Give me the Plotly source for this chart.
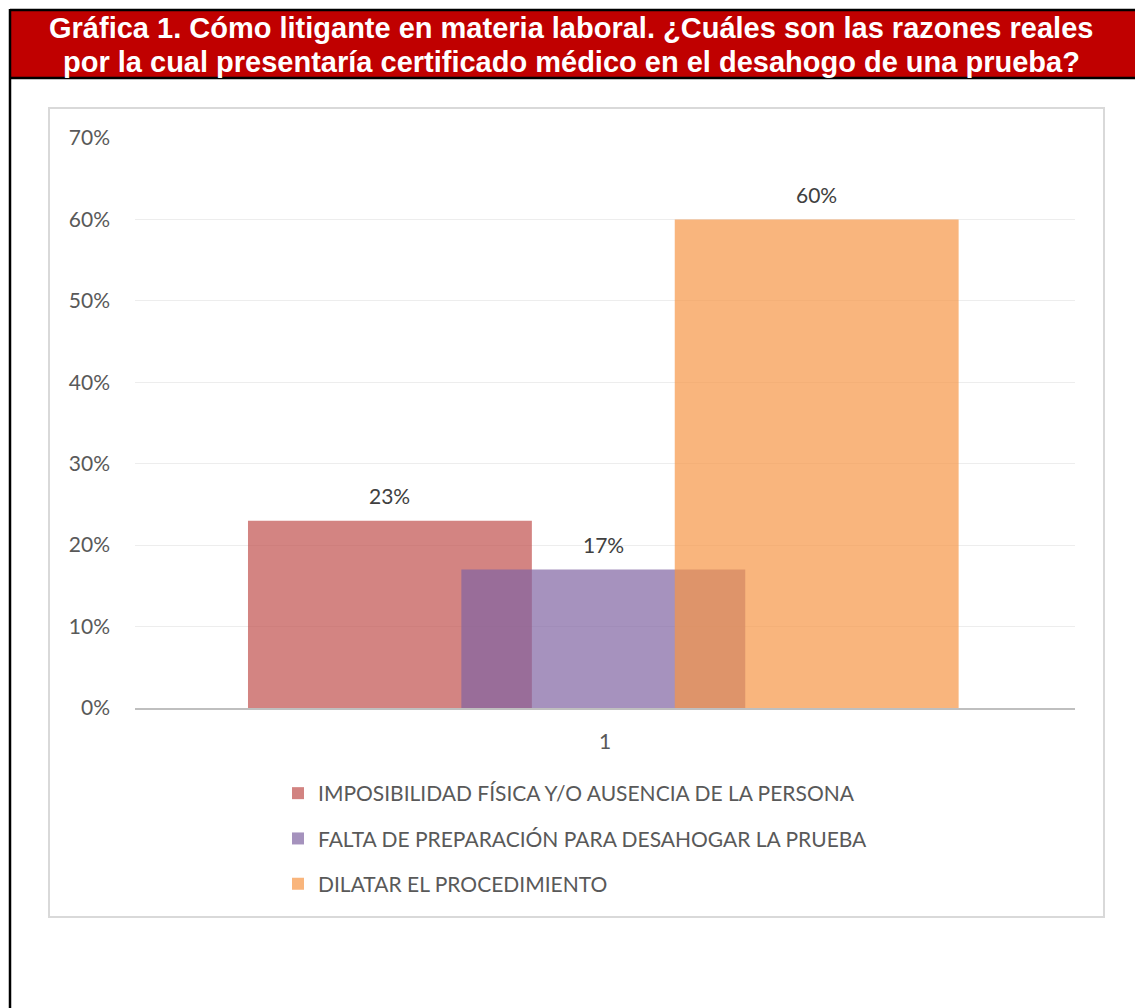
import plotly.graph_objects as go

# --- data ---
categories = ["1"]
series_names = [
    "IMPOSIBILIDAD FÍSICA Y/O AUSENCIA DE LA PERSONA",
    "FALTA DE PREPARACIÓN PARA DESAHOGAR LA PRUEBA",
    "DILATAR EL PROCEDIMIENTO",
]
series_values = [0.23, 0.17, 0.60]
y_ticks = [0, 0.1, 0.2, 0.3, 0.4, 0.5, 0.6, 0.7]
title_lines = [
    "Gráfica 1. Cómo litigante en materia laboral. ¿Cuáles son las razones reales",
    "por la cual presentaría certificado médico en el desahogo de una prueba?",
]

# --- styling ---
W, H = 1135, 1008
colors = ["#C0504D", "#8064A2", "#F79646"]
bar_width = 0.302
bar_offsets = [-0.3798, -0.1528, 0.0742]
FONT = "Lato"
TXT = 21

def px(x):
    return x / W

def py(y):
    return 1 - y / H

fig = go.Figure()
for i, (name, val) in enumerate(zip(series_names, series_values)):
    fig.add_trace(go.Bar(
        x=categories,
        y=[val],
        name=name,
        width=bar_width,
        offset=bar_offsets[i],
        marker=dict(color=colors[i], line=dict(width=0)),
        opacity=0.7,
        legendgroup=f"g{i}",
        hoverinfo="skip",
    ))

# value labels above each bar
annotations = []
for i, val in enumerate(series_values):
    annotations.append(dict(
        x=bar_offsets[i] + bar_width / 2,
        xref="x",
        y=val,
        yref="y",
        text=f"{round(val * 100)}%",
        showarrow=False,
        yshift=25,
        font=dict(family=FONT, size=TXT, color="#404040"),
    ))

# header text, one annotation per line
for line, yc in zip(title_lines, [28, 62]):
    annotations.append(dict(
        x=px(571), y=py(yc), xref="paper", yref="paper",
        xanchor="center", yanchor="middle",
        text=line, showarrow=False,
        font=dict(family="Liberation Sans", size=29, color="white", weight="bold"),
    ))

shapes = [
    # red header band
    dict(type="rect", xref="paper", yref="paper",
         x0=px(10), x1=px(1136), y0=py(78), y1=py(10),
         fillcolor="#C00000", line=dict(width=0), layer="below"),
    # outer black frame
    dict(type="line", xref="paper", yref="paper",
         x0=px(10), x1=px(1136), y0=py(10), y1=py(10),
         line=dict(color="black", width=2.5)),
    dict(type="line", xref="paper", yref="paper",
         x0=px(10), x1=px(1136), y0=py(78), y1=py(78),
         line=dict(color="black", width=2.5)),
    dict(type="line", xref="paper", yref="paper",
         x0=px(10), x1=px(10), y0=py(9), y1=py(1010),
         line=dict(color="black", width=2.5)),
    # chart frame
    dict(type="rect", xref="paper", yref="paper",
         x0=px(49), x1=px(1104), y0=py(917), y1=py(108),
         line=dict(color="#D9D9D9", width=2), layer="below"),
]

fig.update_layout(
    width=W, height=H,
    margin=dict(l=0, r=0, t=0, b=0, autoexpand=False),
    paper_bgcolor="white",
    plot_bgcolor="white",
    barmode="overlay",
    showlegend=True,
    annotations=annotations,
    shapes=shapes,
    legend=dict(
        x=px(278), y=py(773), xanchor="left", yanchor="top",
        orientation="v",
        font=dict(family=FONT, size=TXT, color="#595959"),
        tracegroupgap=15,
        bgcolor="rgba(0,0,0,0)",
        traceorder="grouped",
    ),
    xaxis=dict(
        domain=[px(135), px(1075)],
        type="category",
        range=[-0.5, 0.5],
        automargin=False,
        showgrid=False,
        showline=True,
        linecolor="#BFBFBF",
        linewidth=2,
        ticks="",
        ticklabelstandoff=14,
        tickfont=dict(family=FONT, size=TXT, color="#595959"),
        fixedrange=True,
    ),
    yaxis=dict(
        domain=[py(708), py(138)],
        range=[0, 0.7],
        tickvals=y_ticks,
        tickformat=".0%",
        automargin=False,
        showgrid=True,
        gridcolor="#EDEDED",
        gridwidth=1,
        zeroline=False,
        showline=False,
        ticks="",
        ticklabelstandoff=24,
        tickfont=dict(family=FONT, size=TXT, color="#595959"),
        fixedrange=True,
    ),
)

fig.write_html("out.html")
